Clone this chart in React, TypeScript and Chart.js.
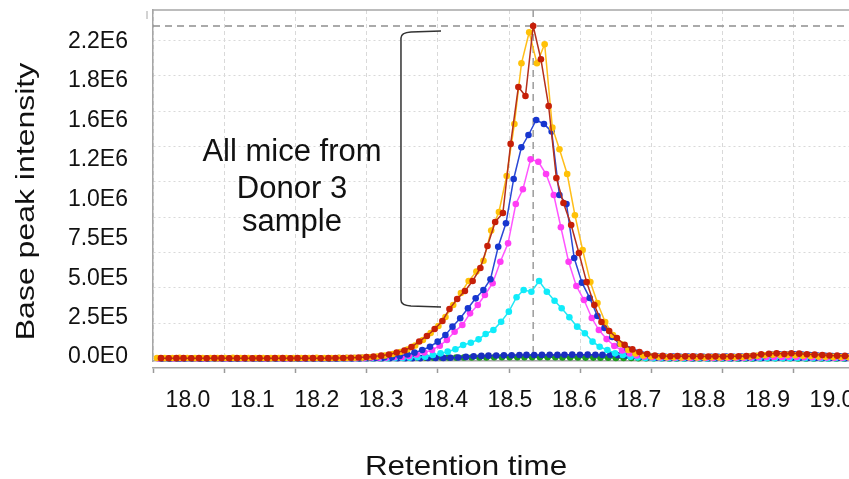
import React, { useEffect, useRef } from "react";
import { Chart, registerables } from "chart.js";

Chart.register(...registerables);

// ---------- DATA ----------
// scan times (min) of the reference sample grid
const scanTimes = [
  17.958, 17.970, 17.982, 17.993, 18.005, 18.017, 18.029, 18.041, 18.052, 18.064,
  18.076, 18.088, 18.100, 18.111, 18.123, 18.135, 18.147, 18.159, 18.170, 18.182,
  18.194, 18.206, 18.218, 18.229, 18.241, 18.253, 18.265, 18.277, 18.288, 18.300,
  18.312, 18.324, 18.336, 18.347, 18.359, 18.371, 18.383, 18.395, 18.406, 18.418,
  18.430, 18.442, 18.454, 18.465, 18.477, 18.489, 18.501, 18.513, 18.524, 18.536,
  18.548, 18.560, 18.572, 18.583, 18.595, 18.607, 18.619, 18.631, 18.642, 18.654,
  18.666, 18.678, 18.690, 18.701, 18.713, 18.725, 18.737, 18.749, 18.760, 18.772,
  18.784, 18.796, 18.808, 18.819, 18.831, 18.843, 18.855, 18.867, 18.878, 18.890,
  18.902, 18.914, 18.926, 18.937, 18.949, 18.961, 18.973, 18.985, 18.996, 19.008,
  19.020, 19.032, 19.044,
];

// base peak intensity, in thousands of counts
const mouseRed = [
  3, 2, 3, 3, 2, 3, 2, 3, 3, 2, 3, 3, 2, 3, 2, 3, 3, 2, 3, 3, 3, 2, 3, 4, 4,
  6, 8, 11, 15, 21, 29, 43, 57, 82, 121, 160, 209, 266, 351, 421, 478, 549, 641, 796, 966,
  1030, 1518, 1921, 1857, 2352, 2117, 1786, 1277, 1100, 945, 747, 541, 379, 259, 195, 146,
  97, 65, 47, 33, 22,
  19, 17, 18, 16, 17, 16, 15, 16, 15, 16, 17, 18, 22, 30, 34, 37, 33, 38, 35, 31, 28, 25,
  22, 21, 19, 18, 17,
];
const mouseGold = [
  4, 3, 4, 5, 4, 3, 4, 4, 3, 4, 5, 4, 3, 4, 4, 3, 4, 4, 3, 4, 4, 5, 4, 4, 5, 5, 6,
  7, 10, 15, 22, 33, 47, 64, 93, 131, 181, 230, 294, 379, 464, 549, 615, 692, 905, 1037,
  1291, 1659, 2088, 2308, 2088, 2223, 1633, 1480, 1305, 1014, 768, 541, 393, 259, 167, 103,
  61, 36, 22, 15,
  11, 9, 9, 8, 9, 8, 8, 9, 8, 9, 10, 11, 14, 20, 24, 27, 25, 26, 24, 21, 18, 15, 13, 12,
  11, 10, 10,
];
const mouseBlue = [
  2, 2, 1, 2, 2, 1, 2, 2, 2, 1, 2, 2, 2, 1, 2, 2, 2, 2, 1, 2, 2, 2, 2, 3, 3,
  4, 5, 6, 7, 9, 11, 18, 29, 42, 61, 84, 120, 167, 226, 285, 356, 426, 485, 561, 791,
  957, 1270, 1494, 1581, 1687, 1659, 1605, 1157, 1093, 711, 537, 429, 301, 216, 153, 103,
  68, 43, 29, 18, 15,
  13, 14, 13, 14, 12, 13, 12, 13, 14, 13, 14, 15, 18, 24, 28, 30, 29, 31, 28, 25, 22, 20,
  18, 16, 15, 14, 13,
];
const mouseMagenta = [
  1, 2, 1, 1, 2, 1, 1, 2, 1, 1, 2, 1, 1, 2, 1, 2, 1, 1, 2, 1, 2, 2, 2, 2, 2, 3, 3, 3, 4,
  5, 7, 9, 11, 18, 29, 43, 61, 91, 132, 190, 238, 320, 379, 450, 533, 685, 815, 1093,
  1197, 1409, 1392, 1305, 1157, 929, 685, 513, 414, 287, 202, 138, 89, 57, 36, 22, 15,
  10, 8, 7, 6, 6, 5, 6, 5, 5, 6, 5, 6, 6, 7, 9, 11, 12, 12, 13, 11, 10, 9, 8, 7, 6, 6, 5, 5,
];
const mouseCyan = [
  1, 1, 2, 1, 1, 1, 2, 1, 1, 1, 2, 1, 1, 2, 1, 1, 1, 2, 1, 1, 2, 1, 1, 2, 1, 2, 2, 2, 3, 3,
  3, 4, 5,
  6, 9, 13, 25, 37, 49, 66, 96, 112, 136, 174, 202, 261, 332, 434, 485, 473, 549, 473, 409,
  356, 292, 226, 179, 120, 84, 61, 37, 25, 13, 8, 4,
  3, 2, 2, 2, 1, 2, 2, 1, 2, 2, 1, 2, 2, 2, 3, 3, 3, 3, 3, 2, 2, 2, 2, 1, 2, 2, 1, 2,
];
const mouseNavy = [
  1, 1, 2, 1, 1, 1, 1, 2, 1, 1, 1, 1, 1, 2, 1, 1, 1, 1, 2, 1, 1, 1, 1, 1, 2, 1, 1,
  2, 2, 2, 2, 2, 3, 3, 3, 4, 4,
  5, 6, 8, 12, 16, 19, 21, 22, 23, 24, 25, 26, 25, 26, 27, 26, 27, 28, 27, 28, 27, 26, 25,
  24, 22, 18, 13, 9, 6,
  5, 4, 4, 4, 3, 4, 3, 3, 4, 3, 3, 4, 4, 5, 6, 6, 7, 6, 6, 5, 5, 4, 4, 4, 3, 3, 3,
];
const mouseGreen = [
  1, 1, 1, 1, 1, 1, 1, 1, 1, 1, 1, 1, 1, 1, 1, 1, 1, 1, 1, 1, 1, 1, 1, 1, 2, 2, 2, 2, 3, 3,
  4, 4, 5, 5, 6, 6, 6, 7, 7, 7, 8, 8, 8, 8, 9, 9, 9, 9, 9, 9, 9, 9, 9, 8, 8, 8, 7, 7, 6, 6,
  5, 5, 4, 3, 2,
  2, 2, 1, 1, 1, 1, 1, 1, 1, 1, 1, 1, 1, 1, 2, 2, 2, 2, 2, 1, 1, 1, 1, 1, 1, 1, 1, 1,
];

const seriesNames = ["Mouse 1", "Mouse 2", "Mouse 3", "Mouse 4", "Mouse 5", "Mouse 6", "Mouse 7"];
const seriesValues = [mouseRed, mouseGold, mouseBlue, mouseMagenta, mouseCyan, mouseNavy, mouseGreen];
// per-run scan time offset (min)
const seriesTimeShift = [0, -0.0062, 0.0047, -0.004, -0.0028, 0.0016, -0.0016];

const xTickValues = [18.0, 18.1, 18.2, 18.3, 18.4, 18.5, 18.6, 18.7, 18.8, 18.9, 19.0];
const yTickLabels = ["0.0E0", "2.5E5", "5.0E5", "7.5E5", "1.0E6", "1.2E6", "1.6E6", "1.8E6", "2.2E6"];
const yGridValues = [0, 250, 500, 750, 1000, 1250, 1500, 1750, 2000, 2250];
const xGridSlots = [0, 1, 2, 3, 4, 5, 6, 7, 8, 9, 10];

const annotationLines = ["All mice from", "Donor 3", "sample"];
const yTitle = "Base peak intensity";
const xTitle = "Retention time";

// annotation anchors in data units (time, intensity k)
const bracketTime = 18.3307;
const bracketEndTime = 18.3929;
const bracketTopK = 2317;
const bracketBottomK = 365;
const annotationTime = 18.1615;
const annotationBaselinesK = [1398, 1136, 904];

// ---------- STYLE ----------
const FONT = "'Liberation Sans', Arial, Helvetica, sans-serif";
const lineColors = ["#b5301c", "#ffbe1a", "#2a48d6", "#ff55ff", "#22e6f4", "#2236c0", "#2aa52a"];
const dotColors = ["#c61f08", "#ffc107", "#1736cf", "#ff3cf5", "#10ecfa", "#1a2cc0", "#1e9a1e"];
const FRAME = "#a6a6a6";
const GRID = "#d9d9d9";

const X_MIN = 17.94565;
const X_MAX = 19.07453;
const XG_MAX = 10.208;
const Y_MIN = -17;
const Y_MAX = 2465;
const YL_MIN = -0.1015;
const YL_MAX = 8.805;

function findPeak() {
  let v = -Infinity;
  let t = 0;
  seriesValues.forEach((vals, s) => {
    vals.forEach((val, k) => {
      if (val > v && k < scanTimes.length) {
        v = val;
        t = scanTimes[k] + seriesTimeShift[s];
      }
    });
  });
  return { v, t };
}

const noPad = (s: any) => {
  s.paddingTop = 0;
  s.paddingBottom = 0;
  s.paddingLeft = 0;
  s.paddingRight = 0;
};

const decorPlugin = {
  id: "decor",
  beforeDatasetsDraw(chart: any) {
    const { ctx, chartArea: a, scales } = chart;
    const peak = findPeak();
    const py = scales.y.getPixelForValue(peak.v);
    const px = scales.x.getPixelForValue(peak.t);
    ctx.save();
    ctx.strokeStyle = FRAME;
    ctx.lineWidth = 1.5;
    ctx.beginPath();
    ctx.moveTo(a.left, a.top);
    ctx.lineTo(a.right, a.top);
    ctx.stroke();
    ctx.lineWidth = 1;
    ctx.beginPath();
    ctx.moveTo(a.left - 6, a.top + 1);
    ctx.lineTo(a.left - 6, a.top + 9);
    ctx.stroke();
    ctx.setLineDash([7, 5]);
    ctx.lineWidth = 1.5;
    ctx.strokeStyle = "#8e8e8e";
    ctx.beginPath();
    ctx.moveTo(a.left, py);
    ctx.lineTo(a.right, py);
    ctx.stroke();
    ctx.strokeStyle = "#9c9c9c";
    ctx.beginPath();
    ctx.moveTo(px, a.top);
    ctx.lineTo(px, a.bottom);
    ctx.stroke();
    ctx.restore();
  },
  afterDraw(chart: any) {
    const { ctx, scales } = chart;
    const xs = scales.x;
    const ys = scales.y;
    ctx.save();
    // bracket
    const x0 = xs.getPixelForValue(bracketTime);
    const x1 = xs.getPixelForValue(bracketEndTime);
    const yT = ys.getPixelForValue(bracketTopK);
    const yB = ys.getPixelForValue(bracketBottomK);
    ctx.strokeStyle = "#333333";
    ctx.lineWidth = 1.5;
    ctx.beginPath();
    ctx.moveTo(x1, yT);
    ctx.lineTo(x0 + 10, yT + 1);
    ctx.quadraticCurveTo(x0, yT + 1.6, x0, yT + 7);
    ctx.lineTo(x0, yB - 7);
    ctx.quadraticCurveTo(x0, yB - 1.6, x0 + 10, yB - 1);
    ctx.lineTo(x1, yB);
    ctx.stroke();
    // annotation text
    ctx.fillStyle = "#111111";
    ctx.font = `31px ${FONT}`;
    ctx.textAlign = "center";
    ctx.textBaseline = "alphabetic";
    const tx = xs.getPixelForValue(annotationTime);
    annotationLines.forEach((line, i) => {
      ctx.fillText(line, tx, ys.getPixelForValue(annotationBaselinesK[i]));
    });
    // y title
    ctx.save();
    ctx.translate(33.5, 201.5);
    ctx.rotate(-Math.PI / 2);
    ctx.scale(1.25, 1);
    ctx.font = `25.6px ${FONT}`;
    ctx.fillText(yTitle, 0, 0);
    ctx.restore();
    // x title
    ctx.save();
    ctx.translate(466, 475);
    ctx.scale(1.12, 1);
    ctx.font = `28px ${FONT}`;
    ctx.fillText(xTitle, 0, 0);
    ctx.restore();
    ctx.restore();
  },
};

export default function App() {
  const canvasRef = useRef<HTMLCanvasElement | null>(null);

  useEffect(() => {
    if (!canvasRef.current) return;
    const datasets = seriesValues.map((vals, s) => ({
      label: seriesNames[s],
      data: vals
        .slice(0, scanTimes.length)
        .map((v, k) => ({ x: scanTimes[k] + seriesTimeShift[s], y: v })),
      xAxisID: "x",
      yAxisID: "y",
      borderColor: lineColors[s],
      backgroundColor: dotColors[s],
      pointBackgroundColor: dotColors[s],
      pointBorderColor: dotColors[s],
      pointBorderWidth: 0,
      pointRadius: 3.3,
      borderWidth: 1.5,
      tension: 0,
      fill: false,
      clip: false as any,
    }));

    const chart = new Chart(canvasRef.current, {
      type: "line",
      data: { datasets },
      plugins: [decorPlugin],
      options: {
        animation: false,
        responsive: true,
        maintainAspectRatio: false,
        events: [],
        layout: { autoPadding: false, padding: { left: 0, right: 20, top: 10, bottom: 0 } },
        plugins: {
          legend: { display: false },
          tooltip: { enabled: false },
          title: { display: false },
        },
        scales: {
          x: {
            type: "linear",
            position: "bottom",
            weight: 2,
            min: X_MIN,
            max: X_MAX,
            afterBuildTicks: (s: any) => {
              s.ticks = xTickValues.map((v) => ({ value: v }));
            },
            afterFit: (s: any) => {
              s.height = 106;
              noPad(s);
            },
            ticks: {
              callback: (v: any) => Number(v).toFixed(1),
              font: { family: FONT, size: 23 },
              color: "#111111",
              padding: 14,
              autoSkip: false,
              maxRotation: 0,
              minRotation: 0,
            },
            grid: { display: false, drawTicks: false },
            border: { display: false },
          },
          xg: {
            type: "linear",
            position: "bottom",
            weight: 0,
            min: 0,
            max: XG_MAX,
            afterBuildTicks: (s: any) => {
              s.ticks = xGridSlots.map((v) => ({ value: v }));
            },
            afterFit: (s: any) => {
              s.height = 7;
              noPad(s);
            },
            ticks: { display: false },
            grid: { color: GRID, lineWidth: 1, drawTicks: false },
            border: { display: true, color: FRAME, width: 1.5, dash: [4, 3] },
          },
          xt: {
            type: "linear",
            position: "bottom",
            weight: 1,
            min: 0,
            max: XG_MAX,
            afterBuildTicks: (s: any) => {
              s.ticks = xGridSlots.map((v) => ({ value: v }));
            },
            afterFit: (s: any) => {
              s.height = 5;
              noPad(s);
            },
            ticks: { display: false },
            grid: {
              drawOnChartArea: false,
              drawTicks: true,
              tickLength: 5,
              tickColor: "#9a9a9a",
              tickWidth: 1.5,
            },
            border: { display: true, color: FRAME, width: 1.5 },
          },
          y: {
            type: "linear",
            position: "left",
            weight: 0,
            min: Y_MIN,
            max: Y_MAX,
            afterBuildTicks: (s: any) => {
              s.ticks = yGridValues.map((v) => ({ value: v }));
            },
            afterFit: (s: any) => {
              s.width = 0;
              noPad(s);
            },
            ticks: { display: false },
            grid: { color: GRID, lineWidth: 1, drawTicks: false },
            border: { display: true, color: FRAME, width: 1.5, dash: [2, 3] },
          },
          yl: {
            type: "linear",
            position: "left",
            weight: 1,
            min: YL_MIN,
            max: YL_MAX,
            afterBuildTicks: (s: any) => {
              s.ticks = yTickLabels.map((_, i) => ({ value: i }));
            },
            afterFit: (s: any) => {
              s.width = 153;
              noPad(s);
            },
            ticks: {
              callback: (v: any) => yTickLabels[Math.round(Number(v))] ?? "",
              font: { family: FONT, size: 23 },
              color: "#111111",
              padding: 25,
              autoSkip: false,
            },
            grid: { display: false, drawTicks: false },
            border: { display: false },
          },
        },
      } as any,
    });
    return () => chart.destroy();
  }, []);

  return (
    <div
      style={{
        position: "fixed",
        left: 0,
        top: 0,
        width: 849,
        height: 479,
        overflow: "hidden",
        background: "#ffffff",
      }}
    >
      <div style={{ position: "relative", width: 900, height: 479 }}>
        <canvas ref={canvasRef} />
      </div>
    </div>
  );
}
